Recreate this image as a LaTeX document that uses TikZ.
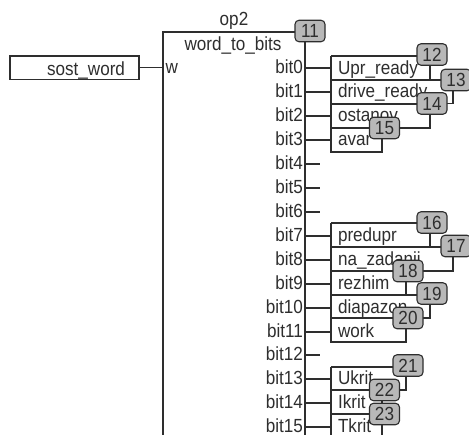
\documentclass[tikz,border=0pt]{standalone}
\usepackage{fontspec}
\setmainfont[FakeStretch=0.9]{Liberation Sans}
\usetikzlibrary{backgrounds}
\definecolor{ink}{HTML}{2E2E2E}
\definecolor{badgefill}{HTML}{B8B8B8}
\tikzset{
  x=1pt,y=-1pt,
  every node/.style={inner sep=0pt,outer sep=0pt,text=ink,font=\fontsize{19}{19}\selectfont},
  wire/.style={draw=ink,line width=1.1pt},
  badge/.style={draw=ink,line width=1.1pt,fill=badgefill,rounded corners=4pt,minimum width=30pt,minimum height=21.5pt,anchor=center},
  bitlabel/.style={anchor=base east},
  rowlabel/.style={anchor=base west},
  blockbox/.style={draw=ink,line width=1.1pt,anchor=north west,minimum width=142pt,minimum height=420pt},
  inputbox/.style={draw=ink,line width=1.1pt,minimum width=129pt,minimum height=23.5pt,anchor=north west}
}
\begin{document}
\begin{tikzpicture}
\useasboundingbox (0,0) rectangle (469,435);
\clip (0,0) rectangle (469,435);
% input and block
\node[inputbox] (input) at (10,56) {};
\node[anchor=base east] (inputtext) at (125,75.5) {sost\_word};
\node[blockbox] (block) at (163,32) {};
\node[anchor=base] (optext) at (234,25.5) {op2};
\node[anchor=base] (typetext) at (233,51) {word\_to\_bits};
\node[anchor=base west] (w) at (165.5,73.5) {w};
% bit labels and their pins
\foreach \n/\y in {0/68,1/92,2/116,3/140,4/164,5/188,6/212,7/236,8/260,9/284,10/308,11/332,12/355,13/379,14/403,15/427}{
  \node[bitlabel] (bit\n) at (303,\y+6) {bit\n};
  \coordinate (pin\n) at (305,\y);
  \coordinate (end\n) at (331,\y);
  \coordinate (open\n) at (320,\y);
}
% row labels
\node[rowlabel] (upr) at (338,74.5) {Upr\_ready};
\node[rowlabel] (drive) at (338,98) {drive\_ready};
\node[rowlabel] (ostanov) at (338,122) {ostanov};
\node[rowlabel] (avar) at (338,146) {avar};
\node[rowlabel] (predupr) at (338,242) {predupr};
\node[rowlabel] (nazad) at (338,266) {na\_zadanii};
\node[rowlabel] (rezhim) at (338,290) {rezhim};
\node[rowlabel] (diap) at (338,314) {diapazon};
\node[rowlabel] (work) at (338,338) {work};
\node[rowlabel] (ukrit) at (338,385) {Ukrit};
\node[rowlabel] (ikrit) at (338,409) {Ikrit};
\node[rowlabel] (tkrit) at (338,433) {Tkrit};
% badges
\node[badge] (b11) at (310,31) {11};
\node[badge] (b12) at (432,54.5) {12};
\node[badge] (b13) at (456,80) {13};
\node[badge] (b14) at (432,103.5) {14};
\node[badge] (b15) at (384.5,128) {15};
\node[badge] (b16) at (432,222.5) {16};
\node[badge] (b17) at (456,246) {17};
\node[badge] (b18) at (408,271) {18};
\node[badge] (b19) at (432,293.5) {19};
\node[badge] (b20) at (408,318) {20};
\node[badge] (b21) at (408,365.5) {21};
\node[badge] (b22) at (384.5,390) {22};
\node[badge] (b23) at (384.5,414) {23};
% rails of the three groups (left end of each horizontal line)
\foreach \name/\y in {t1/56,l1/80,l2/104,l3/128,l4/152,t2/223,m1/247,m2/271,m3/295,m4/318,m5/342,t3/367,k1/390,k2/414,k3/435}
  \coordinate (\name) at (331,\y);
\begin{pgfonlayer}{background}
\fill[white] (0,0) rectangle (469,435);
\draw[wire] (input.east) -- (input.east -| block.west);
\draw[wire] (block.north west) -- (b11.west |- block.north west);
\foreach \n in {0,1,2,3,7,8,9,10,11,13,14,15}
  \draw[wire] (pin\n) -- (end\n);
\foreach \n in {4,5,6,12}
  \draw[wire] (pin\n) -- (open\n);
% group 1
\draw[wire] (t1) -- (l4) -- ([xshift=-2.5pt]l4 -| b15) -- ([xshift=-2.5pt]b15.south);
\draw[wire] (t1) -- (t1 -| b12.west);
\draw[wire] ([xshift=-2pt]b12.south) -- ([xshift=-2pt]l1 -| b12);
\draw[wire] (l1) -- (l1 -| b13.west);
\draw[wire] (l2) -- (l2 -| b14.west);
\draw[wire] (b14.east) -- ([xshift=-3pt]b14 -| b13) -- ([xshift=-3pt]b13.south);
\draw[wire] ([xshift=-2pt]b14.south) -- ([xshift=-2pt]l3 -| b14) -- (l3);
% group 2
\draw[wire] (t2) -- (m5) -- ([xshift=-2pt]m5 -| b20) -- ([xshift=-2pt]b20.south);
\draw[wire] (t2) -- (t2 -| b16.west);
\draw[wire] ([xshift=-2pt]b16.south) -- ([xshift=-2pt]m1 -| b16);
\draw[wire] (m1) -- (m1 -| b17.west);
\draw[wire] (m2) -- ([xshift=-3pt]m2 -| b17) -- ([xshift=-3pt]b17.south);
\draw[wire] ([xshift=-2pt]b18.south) -- ([xshift=-2pt]m3 -| b18);
\draw[wire] (m3) -- (m3 -| b19.west);
\draw[wire] ([xshift=-2pt]b19.south) -- ([xshift=-2pt]m4 -| b19) -- (m4);
% group 3
\draw[wire] (t3) -- (k3);
\draw[wire] (t3) -- (t3 -| b21.west);
\draw[wire] ([xshift=-2pt]b21.south) -- ([xshift=-2pt]k1 -| b21) -- (k1);
\draw[wire] ([xshift=-2.5pt]b22.south) -- ([xshift=-2.5pt]k2 -| b22) -- (k2);
\draw[wire] ([xshift=-2.5pt]b23.south) -- ([xshift=-2.5pt]k3 -| b23);
\end{pgfonlayer}
\end{tikzpicture}
\end{document}
